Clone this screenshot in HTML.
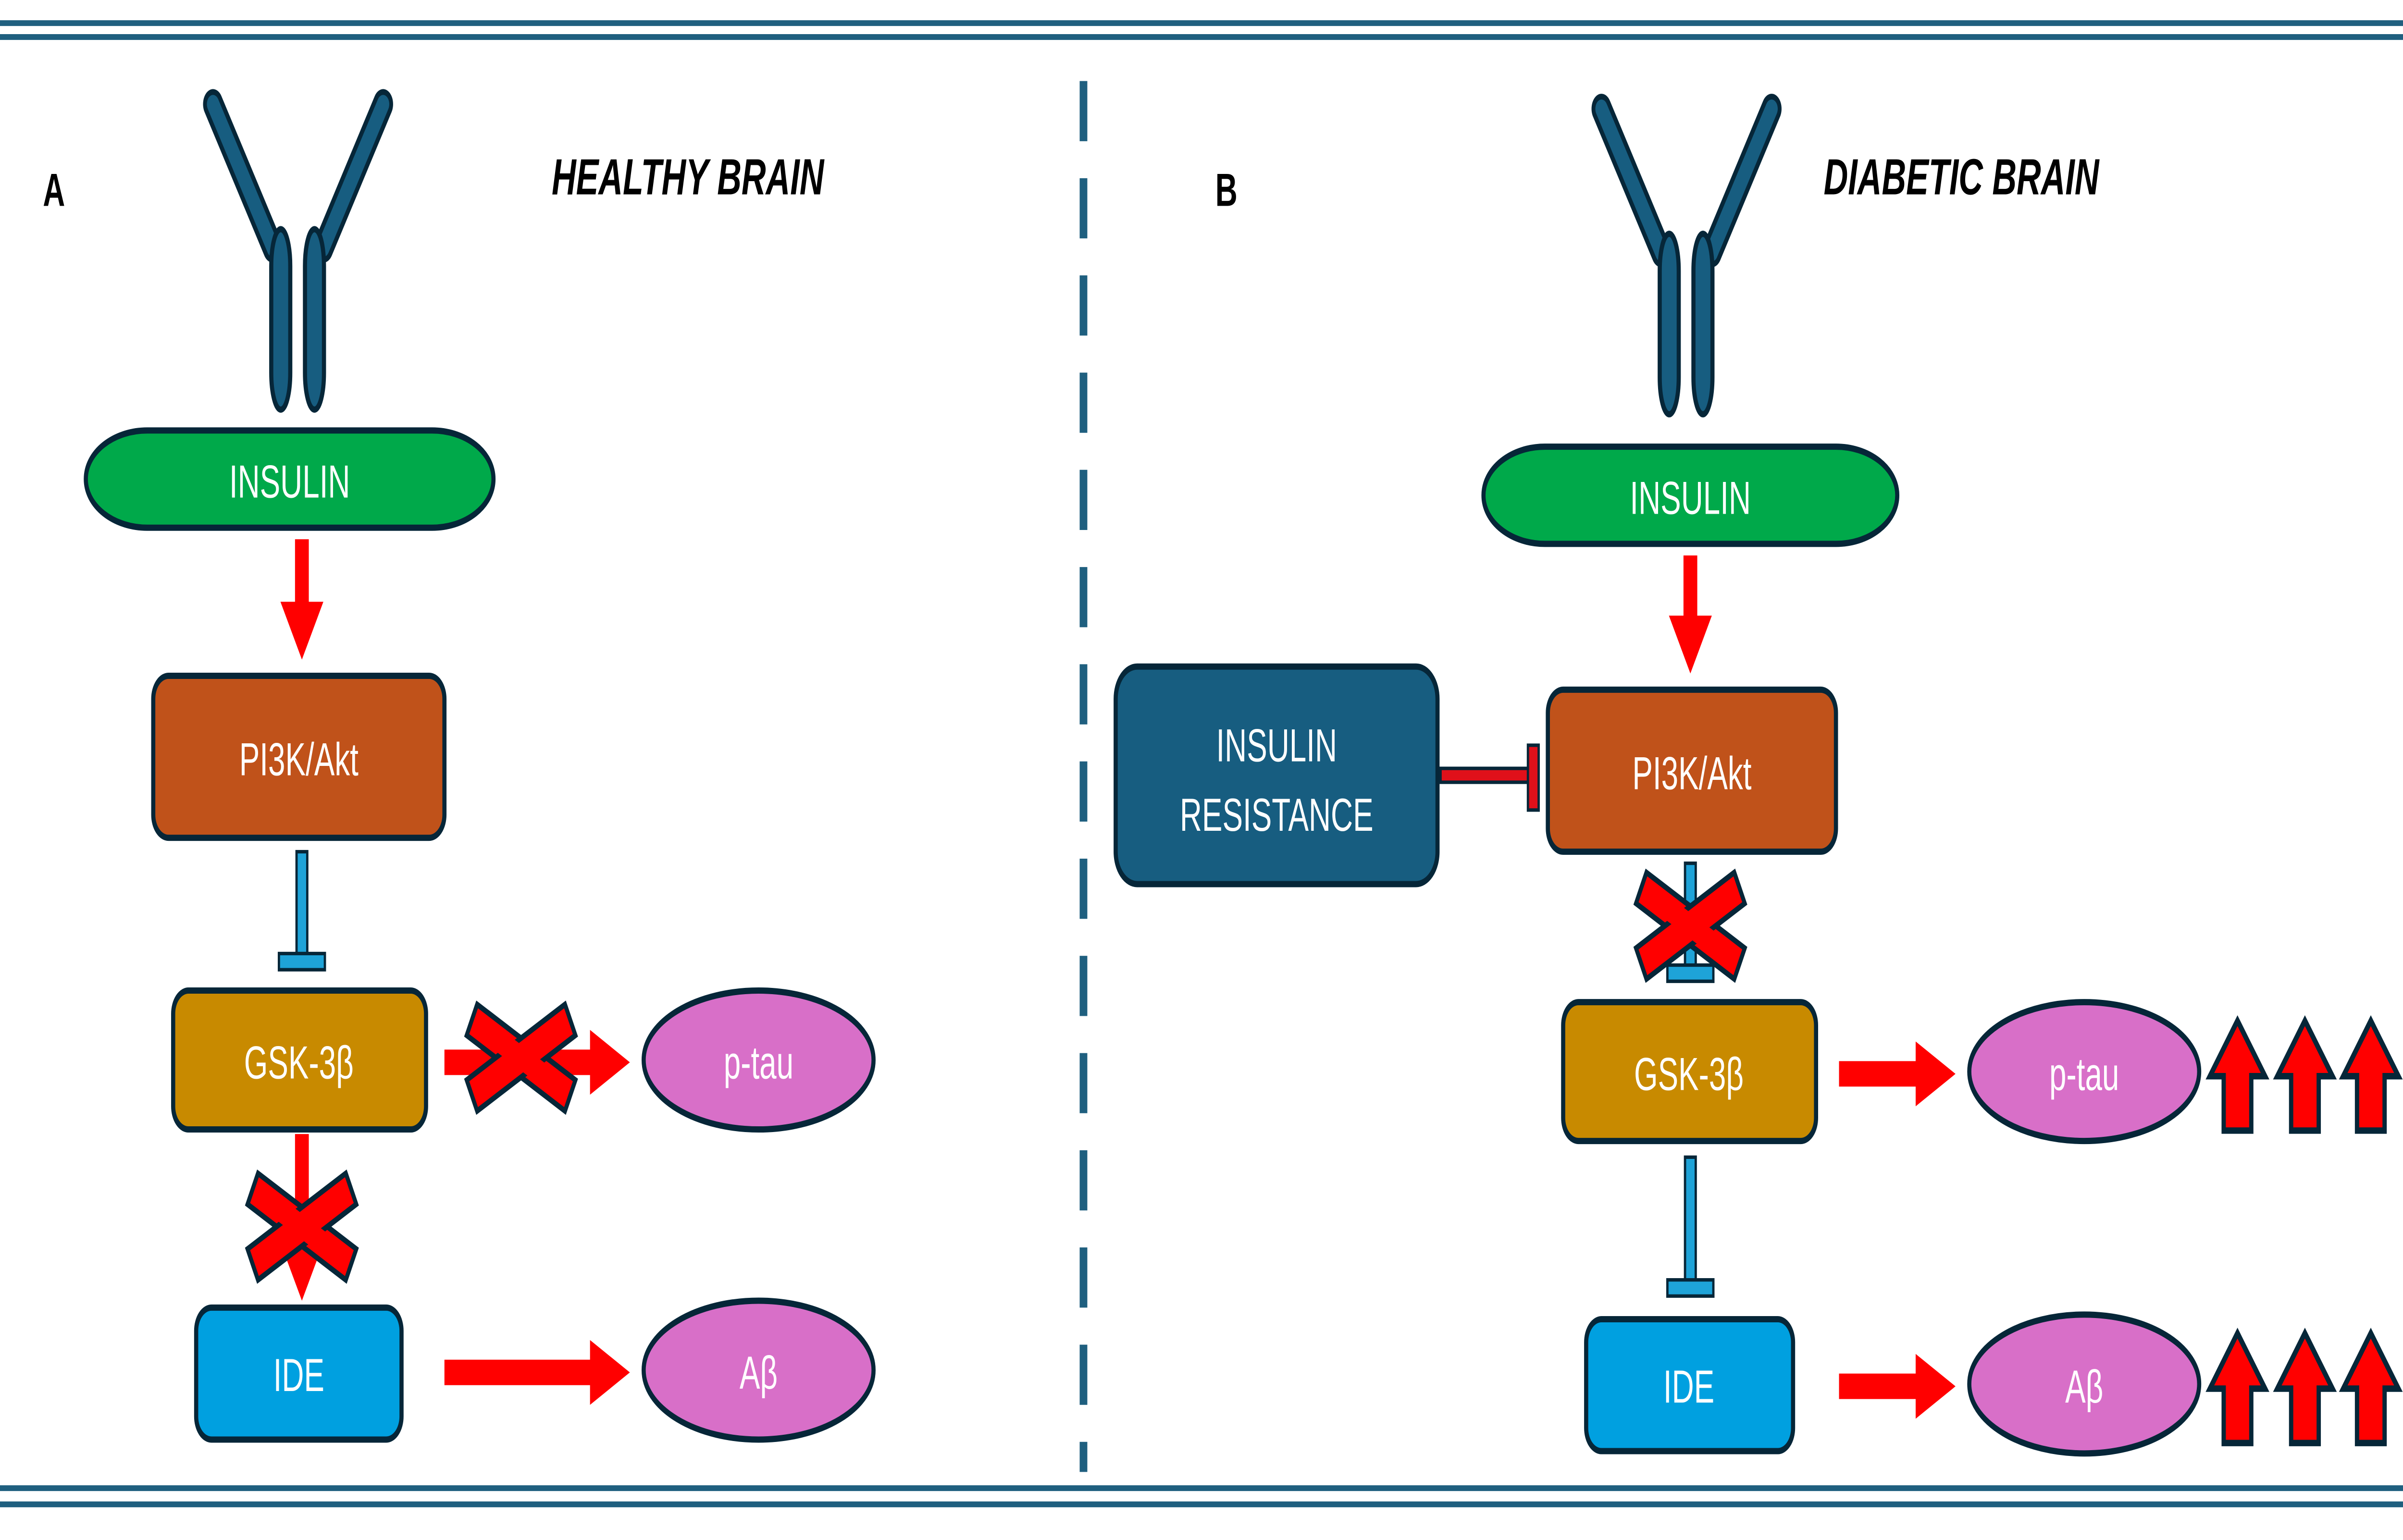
<!DOCTYPE html>
<html><head><meta charset="utf-8">
<style>
html,body{margin:0;padding:0;background:#fff;overflow:hidden;}
svg{display:block;position:fixed;left:0;top:0;width:100vw;height:100vh;}
text{font-family:"Liberation Sans",sans-serif;}
</style></head><body>
<svg viewBox="0 0 1568 665.4" preserveAspectRatio="none" xmlns="http://www.w3.org/2000/svg">
<defs>
<g id="rec">
 <path d="M-64,0 L-25,62" stroke="#062638" stroke-width="13" stroke-linecap="round" fill="none"/>
 <path d="M-64,0 L-25,62" stroke="#175d80" stroke-width="8" stroke-linecap="round" fill="none"/>
 <path d="M47,0 L8,62" stroke="#062638" stroke-width="13" stroke-linecap="round" fill="none"/>
 <path d="M47,0 L8,62" stroke="#175d80" stroke-width="8" stroke-linecap="round" fill="none"/>
 <rect x="-26" y="54" width="12.4" height="78" rx="6.2" ry="16" fill="#175d80" stroke="#062638" stroke-width="2.7"/>
 <rect x="-4" y="54" width="12.4" height="78" rx="6.2" ry="16" fill="#175d80" stroke="#062638" stroke-width="2.7"/>
</g>
<g id="xm">
 <rect x="-36" y="-7.5" width="72" height="15" fill="#f00" stroke="#062638" stroke-width="2.5" transform="rotate(27)"/>
 <rect x="-36" y="-7.5" width="72" height="15" fill="#f00" stroke="#062638" stroke-width="2.5" transform="rotate(-27)"/>
 <rect x="-30" y="-5" width="60" height="10" fill="#f00" transform="rotate(27)"/>
 <rect x="-30" y="-5" width="60" height="10" fill="#f00" transform="rotate(-27)"/>
</g>
<path id="up" d="M-9,-1.5 L-9,-25 L-18,-25 L0,-49 L18,-25 L9,-25 L9,-1.5 Z" fill="#f00" stroke="#062638" stroke-width="2.8"/>
<g id="bt">
 <rect x="-3.5" y="0" width="7" height="46" fill="#1ea3d8" stroke="#062638" stroke-width="1.5"/>
 <rect x="-15" y="44" width="30" height="7" fill="#1ea3d8" stroke="#062638" stroke-width="1.5"/>
</g>
</defs>

<line x1="0" y1="10" x2="1568" y2="10" stroke="#1f5f7f" stroke-width="2.5"/>
<line x1="0" y1="16" x2="1568" y2="16" stroke="#1f5f7f" stroke-width="2.5"/>
<line x1="0" y1="643" x2="1568" y2="643" stroke="#1f5f7f" stroke-width="2.5"/>
<line x1="0" y1="650" x2="1568" y2="650" stroke="#1f5f7f" stroke-width="2.5"/>
<line x1="707" y1="35" x2="707" y2="636" stroke="#1f5f7f" stroke-width="5" stroke-dasharray="26,16"/>

<text x="28" y="89" font-size="20" font-weight="bold">A</text>
<text x="360" y="84" font-size="22" font-weight="bold" font-style="italic">HEALTHY BRAIN</text>
<text x="793" y="89" font-size="20" font-weight="bold">B</text>
<text x="1190" y="84" font-size="22" font-weight="bold" font-style="italic">DIABETIC BRAIN</text>

<use href="#rec" x="203" y="45"/>
<rect x="56" y="186" width="266" height="42" rx="40" ry="21" fill="#00a94a" stroke="#062638" stroke-width="2.7"/>
<text x="189" y="215" font-size="20" fill="#fff" text-anchor="middle">INSULIN</text>
<path d="M192.5,233 L201.5,233 L201.5,260 L211,260 L197,285 L183,260 L192.5,260 Z" fill="#f00"/>
<rect x="100" y="292" width="190" height="70" rx="10" fill="#c0521a" stroke="#062638" stroke-width="2.7"/>
<text x="195" y="335" font-size="20" fill="#fff" text-anchor="middle">PI3K/Akt</text>
<use href="#bt" x="197" y="368"/>
<rect x="113" y="428" width="165" height="60" rx="10" fill="#c88a00" stroke="#062638" stroke-width="2.7"/>
<text x="195" y="466" font-size="20" fill="#fff" text-anchor="middle">GSK-3β</text>
<path d="M290,453.5 L385,453.5 L385,445 L411,459 L385,473 L385,464.5 L290,464.5 Z" fill="#f00"/>
<use href="#xm" x="340" y="457"/>
<ellipse cx="495" cy="458" rx="75" ry="30" fill="#d86fc8" stroke="#062638" stroke-width="2.7"/>
<text x="495" y="466" font-size="20" fill="#fff" text-anchor="middle">p-tau</text>
<path d="M192.5,490 L201.5,490 L201.5,537 L211,537 L197,562 L183,537 L192.5,537 Z" fill="#f00"/>
<use href="#xm" x="197" y="530"/>
<rect x="128" y="565" width="134" height="57" rx="10" fill="#00a0e0" stroke="#062638" stroke-width="2.7"/>
<text x="195" y="601" font-size="20" fill="#fff" text-anchor="middle">IDE</text>
<path d="M290,587.5 L385,587.5 L385,579 L411,593 L385,607 L385,598.5 L290,598.5 Z" fill="#f00"/>
<ellipse cx="495" cy="592" rx="75" ry="30" fill="#d86fc8" stroke="#062638" stroke-width="2.7"/>
<text x="495" y="600" font-size="20" fill="#fff" text-anchor="middle">Aβ</text>

<use href="#rec" x="1109" y="47"/>
<rect x="968" y="193" width="270" height="42" rx="40" ry="21" fill="#00a94a" stroke="#062638" stroke-width="2.7"/>
<text x="1103" y="222" font-size="20" fill="#fff" text-anchor="middle">INSULIN</text>
<path d="M1098.5,240 L1107.5,240 L1107.5,266 L1117,266 L1103,291 L1089,266 L1098.5,266 Z" fill="#f00"/>
<rect x="728" y="288" width="210" height="94" rx="14" fill="#175d80" stroke="#062638" stroke-width="2.7"/>
<text x="833" y="329" font-size="20" fill="#fff" text-anchor="middle">INSULIN</text>
<text x="833" y="359" font-size="20" fill="#fff" text-anchor="middle">RESISTANCE</text>
<rect x="940" y="332" width="58" height="6" fill="#e0101a" stroke="#062638" stroke-width="1.5"/>
<rect x="997" y="322" width="7" height="28" fill="#e0101a" stroke="#062638" stroke-width="1.5"/>
<rect x="1010" y="298" width="188" height="70" rx="10" fill="#c0521a" stroke="#062638" stroke-width="2.7"/>
<text x="1104" y="341" font-size="20" fill="#fff" text-anchor="middle">PI3K/Akt</text>
<use href="#bt" x="1103" y="373"/>
<use href="#xm" x="1103" y="400"/>
<rect x="1020" y="433" width="165" height="60" rx="10" fill="#c88a00" stroke="#062638" stroke-width="2.7"/>
<text x="1102" y="471" font-size="20" fill="#fff" text-anchor="middle">GSK-3β</text>
<path d="M1200,458.5 L1250,458.5 L1250,450 L1276,464 L1250,478 L1250,469.5 L1200,469.5 Z" fill="#f00"/>
<ellipse cx="1360" cy="463" rx="75" ry="30" fill="#d86fc8" stroke="#062638" stroke-width="2.7"/>
<text x="1360" y="471" font-size="20" fill="#fff" text-anchor="middle">p-tau</text>
<use href="#up" x="1460" y="490"/>
<use href="#up" x="1504" y="490"/>
<use href="#up" x="1547" y="490"/>
<g transform="translate(1103,500)">
 <rect x="-3.5" y="0" width="7" height="55" fill="#1ea3d8" stroke="#062638" stroke-width="1.5"/>
 <rect x="-15" y="53" width="30" height="7" fill="#1ea3d8" stroke="#062638" stroke-width="1.5"/>
</g>
<rect x="1035" y="570" width="135" height="57" rx="10" fill="#00a0e0" stroke="#062638" stroke-width="2.7"/>
<text x="1102" y="606" font-size="20" fill="#fff" text-anchor="middle">IDE</text>
<path d="M1200,593.5 L1250,593.5 L1250,585 L1276,599 L1250,613 L1250,604.5 L1200,604.5 Z" fill="#f00"/>
<ellipse cx="1360" cy="598" rx="75" ry="30" fill="#d86fc8" stroke="#062638" stroke-width="2.7"/>
<text x="1360" y="606" font-size="20" fill="#fff" text-anchor="middle">Aβ</text>
<use href="#up" x="1460" y="625"/>
<use href="#up" x="1504" y="625"/>
<use href="#up" x="1547" y="625"/>
</svg>
</body></html>
